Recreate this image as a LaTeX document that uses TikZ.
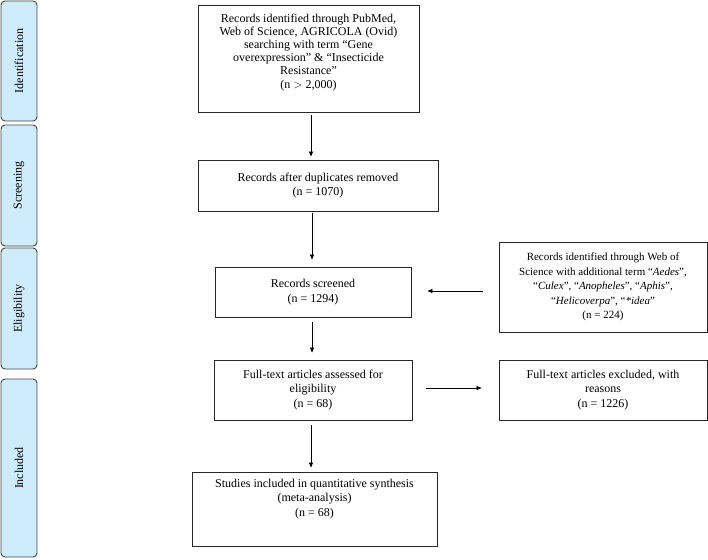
\documentclass[tikz,border=0pt]{standalone}
\usepackage{fontspec}
\setmainfont{Liberation Serif}
\usetikzlibrary{arrows.meta}
\definecolor{barfill}{RGB}{206,236,252}
\definecolor{barline}{RGB}{70,70,70}
\tikzset{
  box/.style={draw=black!85, line width=0.9pt, align=center, font=\fontsize{12}{14.5}\selectfont, inner sep=2pt},
  bar/.style={draw=barline, fill=barfill, line width=0.9pt, rounded corners=4pt},
  barlabel/.style={rotate=90, font=\fontsize{12}{13}\selectfont},
  arr/.style={line width=0.7pt, -{Triangle[length=5pt,width=4pt]}}
}
\begin{document}
\begin{tikzpicture}[x=1pt,y=-1pt]
\useasboundingbox (0,0) rectangle (708,559);
% phase bars
\draw[bar] (1,1) rectangle (37,121);
\draw[bar] (1,125) rectangle (37,246);
\draw[bar] (1,248) rectangle (37,369);
\draw[bar] (1,379) rectangle (37,557);
\node[barlabel] (lid) at (19,61) {Identification};
\node[barlabel] (lsc) at (19,185.5) {Screening};
\node[barlabel] (lel) at (19,308.5) {Eligibility};
\node[barlabel] (lin) at (19,468) {Included};
% boxes
\node[box, font=\fontsize{12}{13.2}\selectfont, minimum width=221pt, minimum height=107pt] (b1) at (308.5,58.5)
  {Records identified through PubMed,\\ Web of Science, AGRICOLA (Ovid)\\ searching with term ``Gene\\ overexpression'' \& ``Insecticide\\ Resistance''\\ (n $>$ 2,000)\\[2pt]};
\node[box, minimum width=240pt, minimum height=51pt] (b2) at (318,185.5)
  {Records after duplicates removed\\ (n = 1070)};
\node[box, minimum width=196pt, minimum height=50pt] (b3) at (313,292)
  {Records screened\\ (n = 1294)};
\node[box, minimum width=198pt, minimum height=60pt] (b4) at (313,390)
  {Full-text articles assessed for\\ eligibility\\ (n = 68)};
\node[box, minimum width=245pt, minimum height=74pt] (b5) at (314.5,509)
  {Studies included in quantitative synthesis\\ (meta-analysis)\\ (n = 68)\\[8pt]};
\node[box, font=\fontsize{11}{14.5}\selectfont, minimum width=208pt, minimum height=90pt] (b6) at (603,287)
  {Records identified through Web of\\ Science with additional term ``\textit{Aedes}'',\\ ``\textit{Culex}'', ``\textit{Anopheles}'', ``\textit{Aphis}'',\\ ``\textit{Helicoverpa}'', ``\textit{*idea}''\\ (n = 224)};
\node[box, minimum width=208pt, minimum height=60pt] (b7) at (603,390)
  {Full-text articles excluded, with\\ reasons\\ (n = 1226)};
% connectors
\draw[arr] ([yshift=-3pt]b1.south -| 311,0) -- ([yshift=3pt]b2.north -| 311,0);
\draw[arr] ([yshift=-2pt]b2.south -| 312,0) -- ([yshift=7pt]b3.north -| 312,0);
\draw[arr] ([yshift=-5pt]b3.south -| 312,0) -- ([yshift=7pt]b4.north -| 312,0);
\draw[arr] ([yshift=-5pt]b4.south -| 311,0) -- ([yshift=4pt]b5.north -| 311,0);
\draw[arr] ([xshift=-16pt]b6.west |- 0,291) -- ([xshift=16pt]b3.east |- 0,291);
\draw[arr] ([xshift=14pt]b4.east |- 0,388) -- ([xshift=-17pt]b7.west |- 0,388);
\end{tikzpicture}
\end{document}
